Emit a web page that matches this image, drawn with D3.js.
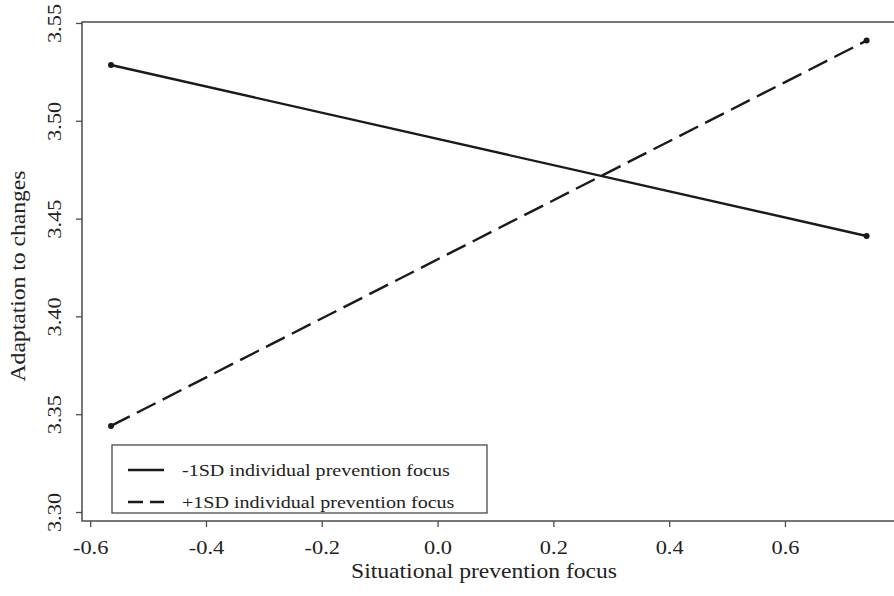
<!DOCTYPE html>
<html>
<head>
<meta charset="utf-8">
<script src="https://cdn.jsdelivr.net/npm/d3@7"></script>
<style>
  html, body { margin: 0; padding: 0; background: #fff; }
  svg { display: block; }
  text { font-family: "Liberation Serif", "Times New Roman", serif; fill: #222; }
</style>
</head>
<body>
<div id="chart"></div>
<script>
// ---- data ----
const xLevels = [-0.564, 0.741];
const seriesNames = ["-1SD individual prevention focus", "+1SD individual prevention focus"];
const lowValues = [3.5285, 3.4411];   // -1SD (solid)
const highValues = [3.3440, 3.5410];  // +1SD (dashed)
const xTicks = [-0.6, -0.4, -0.2, 0.0, 0.2, 0.4, 0.6];
const xTickLabels = ["-0.6", "-0.4", "-0.2", "0.0", "0.2", "0.4", "0.6"];
const yTicks = [3.30, 3.35, 3.40, 3.45, 3.50, 3.55];
const yTickLabels = ["3.30", "3.35", "3.40", "3.45", "3.50", "3.55"];
const xTitle = "Situational prevention focus";
const yTitle = "Adaptation to changes";

const W = 894, H = 596;
const plot = { left: 82, right: 897, top: 22, bottom: 521 };
const SX = 1.18; // horizontal stretch of glyphs

const svg = d3.select("#chart").append("svg").attr("width", W).attr("height", H);

const x = d3.scaleLinear().domain([-0.6141, 0.7935]).range([plot.left, plot.right]);
const y = d3.scaleLinear().domain([3.2954, 3.5505]).range([plot.bottom, plot.top]);

// plot box
svg.append("rect")
  .attr("x", plot.left).attr("y", plot.top)
  .attr("width", plot.right - plot.left).attr("height", plot.bottom - plot.top)
  .attr("fill", "none").attr("stroke", "#4a4a4a").attr("stroke-width", 1.5);

// x axis
const xAxis = d3.axisBottom(x).tickValues(xTicks).tickSize(6).tickFormat(() => "");
const gx = svg.append("g").attr("transform", `translate(0,${plot.bottom})`).call(xAxis);
gx.select(".domain").remove();
gx.selectAll(".tick line").attr("stroke", "#4a4a4a").attr("stroke-width", 1.3);
gx.selectAll(".tick").append("text")
  .attr("transform", `translate(0,33) scale(${SX},1)`)
  .attr("text-anchor", "middle")
  .attr("font-size", 19)
  .attr("fill", "#222")
  .text((d, i) => xTickLabels[i]);

// y axis
const yAxis = d3.axisLeft(y).tickValues(yTicks).tickSize(6).tickFormat(() => "");
const gy = svg.append("g").attr("transform", `translate(${plot.left},0)`).call(yAxis);
gy.select(".domain").remove();
gy.selectAll(".tick line").attr("stroke", "#4a4a4a").attr("stroke-width", 1.3);
gy.selectAll(".tick").append("text")
  .attr("transform", `translate(-21,0) rotate(-90) scale(${SX},1)`)
  .attr("text-anchor", "middle")
  .attr("font-size", 19)
  .attr("fill", "#222")
  .text((d, i) => yTickLabels[i]);

// axis titles
svg.append("text")
  .attr("transform", `translate(484,578) scale(${SX},1)`)
  .attr("text-anchor", "middle")
  .attr("font-size", 20)
  .text(xTitle);
svg.append("text")
  .attr("transform", `translate(25,276) rotate(-90) scale(${SX},1)`)
  .attr("text-anchor", "middle")
  .attr("font-size", 20)
  .text(yTitle);

// lines
const series = [
  { name: seriesNames[0], values: lowValues, dash: null },
  { name: seriesNames[1], values: highValues, dash: "21,8" }
];
const line = d3.line().x(d => x(d[0])).y(d => y(d[1]));
series.forEach(s => {
  const pts = xLevels.map((xv, i) => [xv, s.values[i]]);
  svg.append("path")
    .attr("d", line(pts))
    .attr("fill", "none")
    .attr("stroke", "#1a1a1a")
    .attr("stroke-width", 2.4)
    .attr("stroke-dasharray", s.dash);
  svg.selectAll(null).data(pts).enter().append("circle")
    .attr("cx", d => x(d[0])).attr("cy", d => y(d[1]))
    .attr("r", 3).attr("fill", "#1a1a1a");
});

// legend
const lg = { x: 112, y: 445, w: 375, h: 68 };
svg.append("rect")
  .attr("x", lg.x).attr("y", lg.y).attr("width", lg.w).attr("height", lg.h)
  .attr("fill", "#fff").attr("stroke", "#4a4a4a").attr("stroke-width", 1.3);
series.forEach((s, i) => {
  const cy = 470 + i * 32;
  svg.append("line")
    .attr("x1", 128).attr("x2", 164).attr("y1", cy).attr("y2", cy)
    .attr("stroke", "#1a1a1a").attr("stroke-width", 2.4)
    .attr("stroke-dasharray", s.dash ? "15,7" : null);
  svg.append("text")
    .attr("transform", `translate(182,${cy + 6}) scale(${SX},1)`)
    .attr("font-size", 17)
    .text(s.name);
});
</script>
</body>
</html>
